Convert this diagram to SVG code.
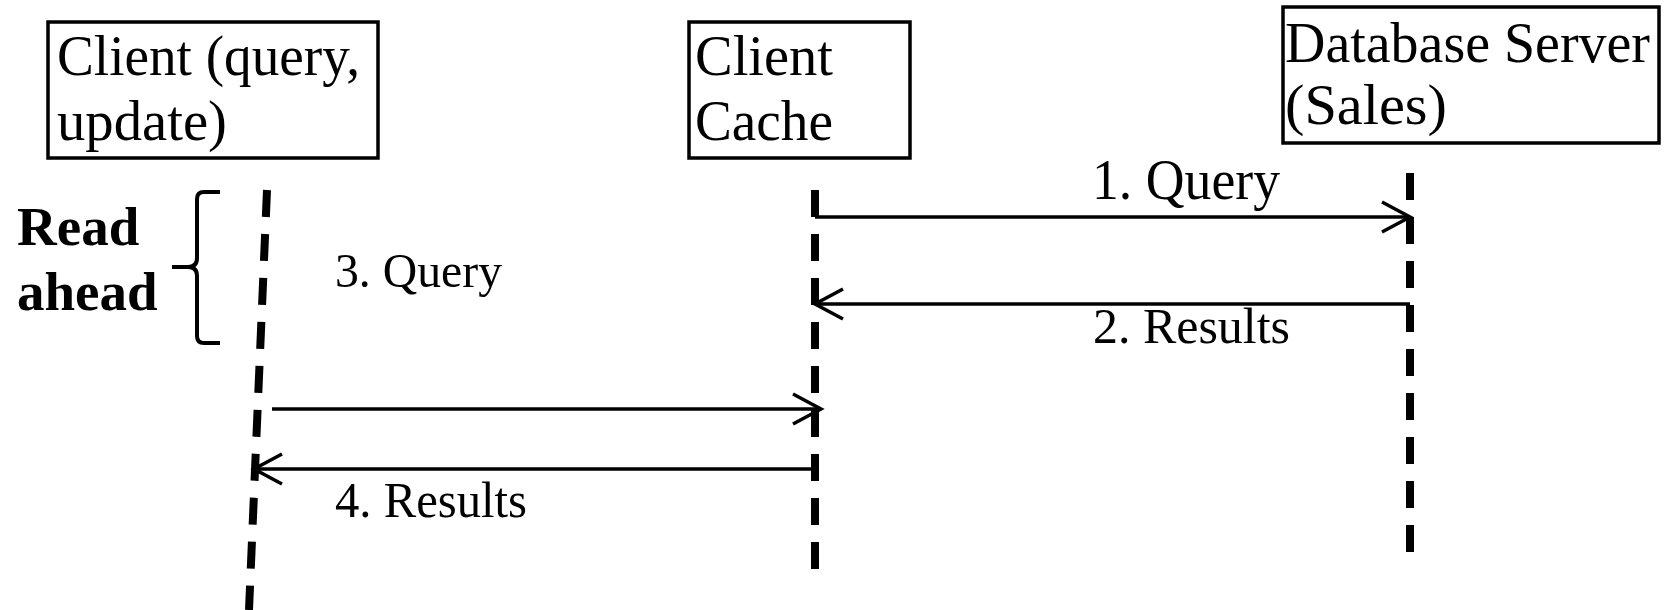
<svg xmlns="http://www.w3.org/2000/svg" width="1671" height="610" viewBox="0 0 1671 610">
<defs>
<style>
.box{fill:#fff;stroke:#000;stroke-width:3.5}
.lbl{font-family:"Liberation Serif","Times New Roman",serif;fill:#000}
.life{fill:none;stroke:#000;stroke-width:8;stroke-dasharray:27 17}
.msg{fill:none;stroke:#000;stroke-width:3.5}
.brace{fill:none;stroke:#000;stroke-width:4}
</style>
<marker id="chev" markerUnits="userSpaceOnUse" markerWidth="40" markerHeight="40" viewBox="-32 -20 36 40" refX="0" refY="0" orient="auto" overflow="visible">
<path d="M-28,-15 L0,0 L-28,15" fill="none" stroke="#000" stroke-width="3.5"/>
</marker>
</defs>
<rect width="1671" height="610" fill="#fff"/>
<g id="client">
<rect class="box" x="48" y="22" width="330" height="136"/>
<text class="lbl" x="57" y="75" font-size="57" textLength="303" lengthAdjust="spacingAndGlyphs">Client (query,</text>
<text class="lbl" x="57" y="140" font-size="57" textLength="170" lengthAdjust="spacingAndGlyphs">update)</text>
</g>
<g id="cache">
<rect class="box" x="689" y="22" width="221" height="136"/>
<text class="lbl" x="695" y="75" font-size="57" textLength="138" lengthAdjust="spacingAndGlyphs">Client</text>
<text class="lbl" x="695" y="140" font-size="57" textLength="138" lengthAdjust="spacingAndGlyphs">Cache</text>
</g>
<g id="dbserver">
<rect class="box" x="1283" y="7" width="376" height="136"/>
<text class="lbl" x="1285" y="62" font-size="57" textLength="365" lengthAdjust="spacingAndGlyphs">Database Server</text>
<text class="lbl" x="1285" y="124" font-size="57" textLength="162" lengthAdjust="spacingAndGlyphs">(Sales)</text>
</g>
<g id="readahead">
<text class="lbl" x="17" y="245" font-size="55" font-weight="bold">Read</text>
<text class="lbl" x="17" y="310" font-size="55" font-weight="bold">ahead</text>
<path class="brace" d="M220,192 L204,192 Q197,192 197,199 L197,258 Q197,267 188,267 L172,267 M188,267 Q197,267 197,276 L197,336 Q197,343 204,343 L220,343"/>
</g>
<g id="lifelines">
<path class="life" d="M267,190 L249,610"/>
<path class="life" d="M815,190 L815,569"/>
<path class="life" d="M1410,173 L1410,552"/>
</g>
<g id="connectors">
<path class="msg" d="M815,217 L1410,217" marker-end="url(#chev)"/>
<path class="msg" d="M1410,304 L815,304" marker-end="url(#chev)"/>
<path class="msg" d="M272,409 L821,409" marker-end="url(#chev)"/>
<path class="msg" d="M815,469 L254,469" marker-end="url(#chev)"/>
<text class="lbl" x="1092" y="199" font-size="57" textLength="188" lengthAdjust="spacingAndGlyphs">1. Query</text>
<text class="lbl" x="1093" y="343" font-size="51" textLength="197" lengthAdjust="spacingAndGlyphs">2. Results</text>
<text class="lbl" x="335" y="287" font-size="49" textLength="167" lengthAdjust="spacingAndGlyphs">3. Query</text>
<text class="lbl" x="335" y="517" font-size="50" textLength="192" lengthAdjust="spacingAndGlyphs">4. Results</text>
</g>
</svg>
